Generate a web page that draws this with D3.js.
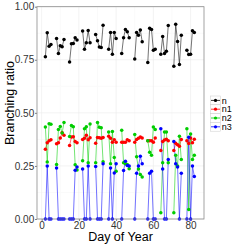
<!DOCTYPE html>
<html>
<head>
<meta charset="utf-8">
<script src="https://cdn.jsdelivr.net/npm/d3@7"></script>
<style>
  body { margin: 0; background: #fff; }
  svg { font-family: "Liberation Sans", Arial, sans-serif; }
</style>
</head>
<body>
<svg id="chart"></svg>
<script>
// weekdays only, day of year
const days = [2, 3, 4, 5,
  8, 9, 10, 11, 12, 15, 16, 17, 18, 19, 22, 23, 24, 25, 26,
  29, 30, 31, 32, 33, 36, 37, 38, 39, 40, 43, 44, 45, 46, 47,
  50, 51, 52, 53, 54, 57, 58, 59, 60, 61, 64, 65, 66, 67, 68,
  71, 72, 73, 74, 75, 78, 79, 80, 81, 82]

const nVals = [0.764, 0.877, 0.814, 0.822,
  0.850, 0.780, 0.816, 0.811, 0.846, 0.740, 0.825, 0.827, 0.854, 0.843,
  0.885, 0.800, 0.830, 0.888, 0.830, 0.869, 0.840, 0.810, 0.808, 0.913,
  0.800, 0.879, 0.776, 0.879, 0.850, 0.780, 0.854, 0.893, 0.882, 0.854,
  0.754, 0.879, 0.866, 0.890, 0.835, 0.737, 0.898, 0.893, 0.795, 0.800,
  0.776, 0.860, 0.780, 0.790, 0.912, 0.720, 0.917, 0.836, 0.728, 0.866,
  0.795, 0.775, 0.776, 0.887, 0.879]

const n1Vals = [0.328, 0.359, 0.368, 0.373,
  0.354, 0.359, 0.381, 0.406, 0.394, 0.346, 0.386, 0.387, 0.365, 0.359,
  0.375, 0.380, 0.394, 0.373, 0.383, 0.357, 0.384, 0.383, 0.380, 0.384,
  0.390, 0.380, 0.362, 0.373, 0.362, 0.362, 0.362, 0.362, 0.373, 0.368,
  0.362, 0.375, 0.380, 0.386, 0.381, 0.368, 0.368, 0.368, 0.362, 0.381,
  0.323, 0.365, 0.372, 0.376, 0.368, 0.323, 0.357, 0.350, 0.343, 0.375,
  0.368, 0.356, 0.381, 0.359, 0.376]

const n2Vals = [0.433, 0.268, 0.449, 0.446,
  0.257, 0.422, 0.436, 0.405, 0.454, 0.389, 0.441, 0.435, 0.255, 0.231,
  0.274, 0.425, 0.435, 0.265, 0.447, 0.265, 0.455, 0.432, 0.430, 0.270,
  0.410, 0.260, 0.412, 0.290, 0.225, 0.418, 0.265, 0.260, 0.257, 0.237,
  0.398, 0.293, 0.235, 0.210, 0.198, 0.369, 0.315, 0.300, 0.433, 0.422,
  0.030, 0.265, 0.410, 0.410, 0.265, 0.030, 0.300, 0.250, 0.390, 0.280,
  0.425, 0.045, 0.400, 0.280, 0.300]

const n3Vals = [0, 0.250, 0, 0,
  0.240, 0, 0, 0, 0, 0, 0, 0, 0.230, 0.245,
  0.235, 0, 0, 0.250, 0, 0.247, 0, 0, 0, 0.260,
  0, 0.240, 0, 0.217, 0.260, 0, 0.228, 0.272, 0.252, 0.250,
  0, 0.215, 0.250, 0.295, 0.260, 0, 0.215, 0.225, 0, 0,
  0.425, 0.235, 0, 0, 0.280, 0.365, 0.260, 0.245, 0, 0.215,
  0, 0.385, 0, 0.250, 0.200]

const seriesNames = ['n', 'n1', 'n2', 'n3']
const seriesColors = ['#000000', '#ff0000', '#00cd00', '#0000ff']
const yTicks = [0, 0.25, 0.5, 0.75, 1]
const xTicks = [0, 20, 40, 60, 80]

const W = 245, H = 245
const margin = {top: 6.7, right: 41, bottom: 26, left: 37}
const width = W - margin.left - margin.right
const height = H - margin.top - margin.bottom

const svg = d3.select('#chart').attr('width', W).attr('height', H)
const g = svg.append('g').attr('transform', `translate(${margin.left},${margin.top})`)

const x = d3.scaleLinear().domain([-2.5, 87.2]).range([0, width])
const y = d3.scaleLinear().domain([0, 1]).range([height, 0])

// grid
const xMinor = [10, 30, 50, 70]
const yMinor = [0.125, 0.375, 0.625, 0.875]
g.selectAll('.gminx').data(xMinor).join('line')
  .attr('x1', d => x(d)).attr('x2', d => x(d)).attr('y1', 0).attr('y2', height)
  .attr('stroke', '#fafafa').attr('stroke-width', 1)
g.selectAll('.gminy').data(yMinor).join('line')
  .attr('y1', d => y(d)).attr('y2', d => y(d)).attr('x1', 0).attr('x2', width)
  .attr('stroke', '#fafafa').attr('stroke-width', 1)
g.selectAll('.gx').data(xTicks).join('line')
  .attr('x1', d => x(d)).attr('x2', d => x(d)).attr('y1', 0).attr('y2', height)
  .attr('stroke', '#ebebeb').attr('stroke-width', 0.6)
g.selectAll('.gy').data(yTicks).join('line')
  .attr('y1', d => y(d)).attr('y2', d => y(d)).attr('x1', 0).attr('x2', width)
  .attr('stroke', '#ebebeb').attr('stroke-width', 0.6)

// axes
const xAxis = d3.axisBottom(x).tickValues(xTicks).tickSize(2).tickPadding(0.5)
const yAxis = d3.axisLeft(y).tickValues(yTicks).tickFormat(d3.format('.2f')).tickSize(2).tickPadding(0.8)
const xAxisG = g.append('g').attr('transform', `translate(0,${height})`).call(xAxis)
const yAxisG = g.append('g').call(yAxis)
for (const ax of [xAxisG, yAxisG]) {
  ax.select('.domain').remove()
  ax.selectAll('.tick line').attr('stroke', '#7f7f7f')
  ax.selectAll('.tick text').attr('fill', '#333').attr('font-size', 10)
    .attr('font-family', '"Liberation Sans", Arial, sans-serif')
}

// series
const series = [nVals, n1Vals, n2Vals, n3Vals].map((vals, i) => ({
  name: seriesNames[i],
  color: seriesColors[i],
  points: days.map((d, j) => ({day: d, value: vals[j]}))
}))

const line = d3.line().x(d => x(d.day)).y(d => y(d.value))

// lines are broken at weekends
series.forEach(s => {
  const weeks = d3.groups(s.points, p => Math.floor((p.day - 1) / 7))
  g.append('g').selectAll('path').data(weeks).join('path')
    .attr('d', w => line(w[1]))
    .attr('fill', 'none')
    .attr('stroke', s.color)
    .attr('stroke-opacity', 0.55)
    .attr('stroke-width', 1)
})
series.forEach(s => {
  g.append('g').selectAll('circle').data(s.points).join('circle')
    .attr('cx', d => x(d.day))
    .attr('cy', d => y(d.value))
    .attr('r', 1.75)
    .attr('fill', s.color)
})

// panel border
g.append('rect').attr('width', width).attr('height', height)
  .attr('fill', 'none').attr('stroke', '#8c8c8c').attr('stroke-width', 0.8)

// titles
svg.append('text')
  .attr('x', margin.left + width / 2).attr('y', 240.5)
  .attr('text-anchor', 'middle').attr('font-size', 12.5).attr('fill', '#000')
  .text('Day of Year')
svg.append('text')
  .attr('transform', 'translate(14,103) rotate(-90)')
  .attr('text-anchor', 'middle').attr('font-size', 12.5).attr('fill', '#000')
  .text('Branching ratio')

// legend
const legend = svg.append('g').attr('transform', 'translate(210.5,96)')
const keyH = 8.8, keyW = 10
const items = legend.selectAll('g').data(series).join('g')
  .attr('transform', (d, i) => `translate(0,${i * keyH})`)
items.append('rect').attr('width', keyW).attr('height', keyH)
  .attr('fill', '#fff').attr('stroke', '#cccccc').attr('stroke-width', 0.5)
items.append('line').attr('x1', 0.5).attr('x2', keyW - 0.5)
  .attr('y1', keyH / 2).attr('y2', keyH / 2)
  .attr('stroke', d => d.color).attr('stroke-width', 0.8)
items.append('circle').attr('cx', keyW / 2).attr('cy', keyH / 2).attr('r', 1.6)
  .attr('fill', d => d.color)
items.append('text').attr('x', keyW + 1.2).attr('y', keyH / 2 + 3.2)
  .attr('font-size', 9).attr('fill', '#000')
  .text(d => d.name)
</script>
</body>
</html>
